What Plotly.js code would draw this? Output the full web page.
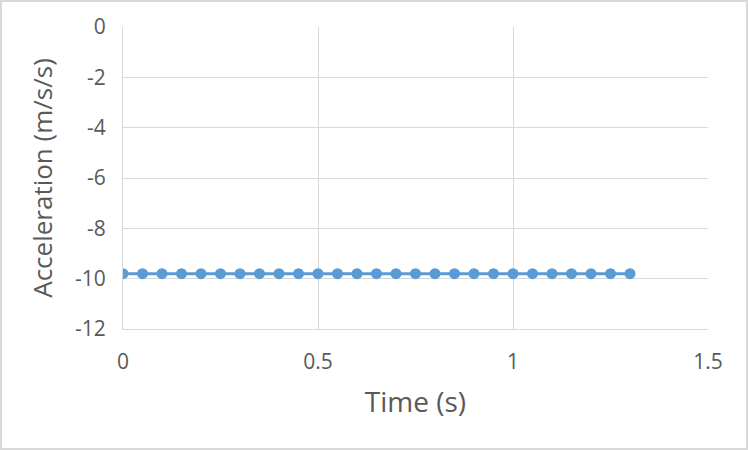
<!DOCTYPE html>
<html>
<head>
<meta charset="utf-8">
<script src="https://cdn.plot.ly/plotly-3.0.1.min.js"></script>
<style>
html,body{margin:0;padding:0;background:#fff;}
#wrap{position:relative;width:748px;height:450px;}
#chart{width:748px;height:450px;}
#frame{position:absolute;left:0;top:0;width:748px;height:450px;box-sizing:border-box;border:2px solid #d9d9d9;pointer-events:none;}
</style>
</head>
<body>
<div id="wrap"><div id="chart"></div><div id="frame"></div></div>
<script>
const timeS = [0,0.05,0.1,0.15,0.2,0.25,0.3,0.35,0.4,0.45,0.5,0.55,0.6,0.65,0.7,0.75,0.8,0.85,0.9,0.95,1,1.05,1.1,1.15,1.2,1.25,1.3];
const accel = [-9.8,-9.8,-9.8,-9.8,-9.8,-9.8,-9.8,-9.8,-9.8,-9.8,-9.8,-9.8,-9.8,-9.8,-9.8,-9.8,-9.8,-9.8,-9.8,-9.8,-9.8,-9.8,-9.8,-9.8,-9.8,-9.8,-9.8];
const xTicks = [0,0.5,1,1.5];
const xTickText = ['0','0.5','1','1.5'];
const yTicks = [0,-2,-4,-6,-8,-10,-12];
const yTickText = ['0','-2','-4','-6','-8','-10','-12'];

const font = "Open Sans, sans-serif";
Plotly.newPlot('chart', [{
  x: timeS, y: accel, type: 'scatter', mode: 'lines+markers',
  line: {color: '#5b9bd5', width: 3},
  marker: {color: '#5b9bd5', size: 11},
  hoverinfo: 'x+y'
}], {
  width: 748, height: 450,
  margin: {l: 123, r: 40, t: 27, b: 121},
  paper_bgcolor: '#fff', plot_bgcolor: '#fff',
  showlegend: false,
  font: {family: font, color: '#595959', size: 21},
  xaxis: {
    range: [0, 1.5], tickvals: xTicks, ticktext: xTickText,
    showgrid: true, gridcolor: '#d9d9d9', gridwidth: 1,
    zeroline: false, showline: true, linecolor: '#d9d9d9', linewidth: 1, mirror: false,
    ticks: '', ticklabelstandoff: 14,
    tickfont: {family: font, size: 21, color: '#595959'},
    title: {text: 'Time (s)', font: {family: font, size: 28, color: '#595959'}, standoff: 18}
  },
  yaxis: {
    range: [-12, 0], tickvals: yTicks, ticktext: yTickText,
    showgrid: true, gridcolor: '#d9d9d9', gridwidth: 1,
    zeroline: false, showline: true, linecolor: '#d9d9d9', linewidth: 1,
    ticks: '', ticklabelstandoff: 12,
    tickfont: {family: font, size: 21, color: '#595959'},
    title: {text: 'Acceleration (m/s/s)', font: {family: font, size: 26, color: '#595959'}, standoff: 14}
  }
}, {displayModeBar: false, staticPlot: true});
</script>
</body>
</html>
